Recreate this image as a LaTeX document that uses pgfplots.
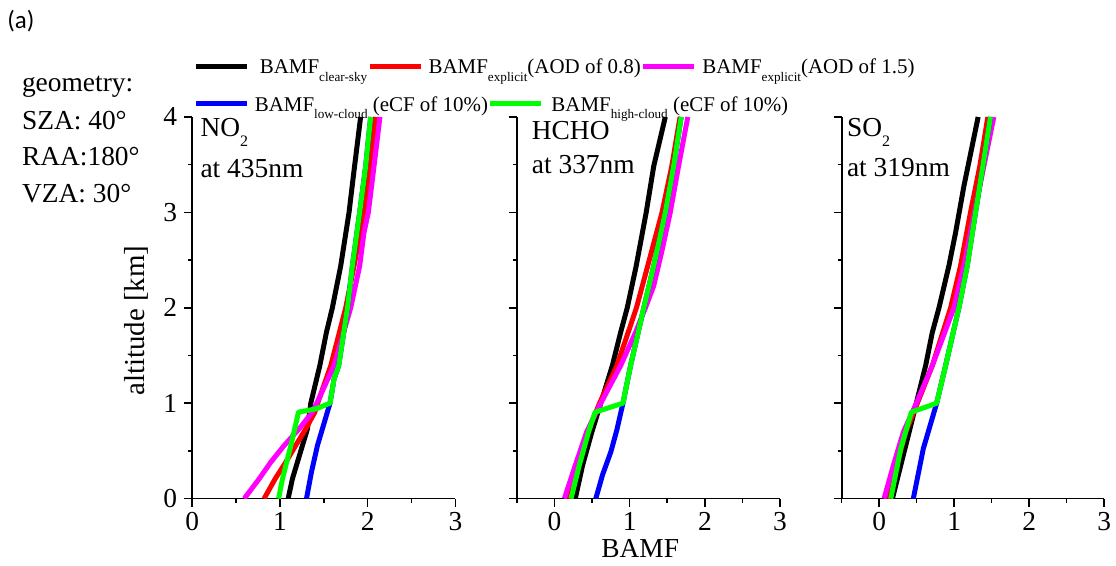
\documentclass[border=0pt]{standalone}
\usepackage{pgfplots}
\pgfplotsset{compat=1.18}
\usepackage{fontspec}
\setmainfont{Liberation Serif}
\newfontfamily\calibri{Carlito}
\definecolor{cgreen}{RGB}{0,255,0}
\definecolor{cmag}{RGB}{255,0,255}
\definecolor{cred}{RGB}{255,0,0}
\definecolor{cblue}{RGB}{0,0,255}
\newcommand{\sub}[1]{\raisebox{-3.8pt}{\fontsize{6.6pt}{7pt}\selectfont #1}}
\newcommand{\msub}[1]{\raisebox{-5pt}{\fontsize{8pt}{9pt}\selectfont #1}}
\pgfplotsset{
  myaxis/.style={
    scale only axis, width=132pt, height=191.35pt,
    ymin=0, ymax=4, anchor=south west,
    axis x line*=bottom, axis y line*=left,
    axis line style={line width=0.9pt,-},
    tick align=outside, major tick length=4pt, minor tick length=2pt,
    every tick/.style={line width=0.8pt,black},
    ytick={0,1,2,3,4}, minor ytick={0.5,1.5,2.5,3.5},
    xtick={0,1,2,3},
    tick label style={font=\fontsize{13.75pt}{15pt}\selectfont},
    xticklabel style={inner sep=2.5pt},
    /pgf/number format/assume math mode=true,
    every axis plot/.append style={line width=2.5pt, line join=round, no markers},
    legend image code/.code={\draw[##1] (0pt,0pt) -- (25.5pt,0pt);},
    legend cell align=left,
  },
  mylegend/.style={
    draw=none, fill=none, inner sep=0pt, outer sep=0pt,
    font=\fontsize{10.5pt}{12pt}\selectfont,
    nodes={inner sep=0pt, text depth=0pt},
    /tikz/every odd column/.style={column sep=2.8pt},
    /tikz/every even column/.style={column sep=0pt},
  },
}
\begin{document}
\begin{tikzpicture}
\path (0,0) rectangle (558pt,283.5pt);
% ---------------- Panel 1: NO2
\begin{axis}[myaxis, at={(96.35pt,33.5pt)}, xmin=0, xmax=3,
  minor xtick={0.5,1.5,2.5},
  legend columns=3,
  legend style={mylegend, at={(0.005,1.132)}, anchor=west}]
\addplot[black] coordinates {(1.094,0) (1.143,0.209) (1.20,0.383) (1.257,0.557) (1.314,0.731) (1.352,1.0) (1.455,1.394) (1.530,1.742) (1.598,2.0) (1.693,2.439) (1.788,3.0) (1.837,3.38) (1.92,4.0)};
\addlegendentry{\hspace{2.5pt}BAMF\sub{clear-sky}}
\addplot[cred] coordinates {(0.82,0) (0.947,0.209) (1.068,0.383) (1.18,0.557) (1.295,0.731) (1.398,0.906) (1.43,1.0) (1.58,1.394) (1.75,2.0) (1.845,2.439) (1.958,3.0) (2.09,4.0)};
\addlegendentry{BAMF\sub{explicit}(AOD of 0.8)}
\addplot[cmag] coordinates {(0.594,0) (0.765,0.209) (0.897,0.383) (1.049,0.557) (1.219,0.731) (1.37,0.906) (1.42,1.0) (1.617,1.394) (1.807,2.0) (1.909,2.439) (1.958,2.787) (2.008,3.0) (2.072,3.48) (2.14,4.0)};
\addlegendentry{BAMF\sub{explicit}(AOD of 1.5)}
\addplot[cblue, forget plot] coordinates {(1.303,0) (1.36,0.28) (1.428,0.557) (1.50,0.78) (1.571,1.0) (1.617,1.254) (1.67,1.394) (1.77,2.0) (1.826,2.439) (1.909,3.0) (1.977,3.48) (2.034,4.0)};
\addplot[cgreen, forget plot] coordinates {(0.985,0) (1.03,0.209) (1.125,0.557) (1.212,0.906) (1.409,0.94) (1.571,1.0) (1.617,1.254) (1.67,1.394) (1.77,2.0) (1.826,2.439) (1.909,3.0) (1.977,3.48) (2.034,4.0)};
\end{axis}
% ---------------- Panel 2: HCHO
\begin{axis}[myaxis, at={(259.15pt,33.5pt)}, xmin=-0.5, xmax=3,
  minor xtick={-0.5,0.5,1.5,2.5}, yticklabels={},
  legend columns=2,
  legend style={mylegend, at={(-1.2284,1.0348)}, anchor=west}]
\addplot[black, forget plot] coordinates {(0.277,0) (0.374,0.348) (0.497,0.697) (0.616,1.0) (0.77,1.394) (0.88,1.742) (0.968,2.0) (1.087,2.439) (1.22,3.0) (1.32,3.484) (1.474,4.0)};
\addplot[cred, forget plot] coordinates {(0.18,0) (0.30,0.348) (0.44,0.697) (0.60,1.0) (0.83,1.394) (0.98,1.742) (1.09,2.0) (1.24,2.439) (1.43,3.0) (1.56,3.484) (1.67,4.0)};
\addplot[cmag, forget plot] coordinates {(0.132,0) (0.277,0.348) (0.427,0.697) (0.616,1.0) (0.88,1.394) (1.078,1.742) (1.21,2.0) (1.32,2.23) (1.43,2.6) (1.54,3.0) (1.65,3.484) (1.773,4.0)};
\addplot[cblue] coordinates {(0.55,0) (0.64,0.25) (0.75,0.49) (0.83,0.72) (0.911,1.0) (1.012,1.394) (1.188,2.0) (1.32,2.439) (1.474,3.0) (1.584,3.484) (1.685,4.0)};
\addlegendentry{BAMF\sub{low-cloud} (eCF of 10\%)}
\addplot[cgreen] coordinates {(0.22,0) (0.33,0.348) (0.453,0.697) (0.541,0.906) (0.911,1.0) (1.012,1.394) (1.188,2.0) (1.32,2.439) (1.474,3.0) (1.584,3.484) (1.685,4.0)};
\addlegendentry{\hspace{1pt}BAMF\sub{high-cloud} (eCF of 10\%)}
\end{axis}
% ---------------- Panel 3: SO2
\begin{axis}[myaxis, at={(422pt,33.5pt)}, width=131.65pt, xmin=-0.5, xmax=3,
  minor xtick={-0.5,0.5,1.5,2.5}, yticklabels={}]
\addplot[black] coordinates {(0.177,0) (0.288,0.348) (0.40,0.697) (0.496,1.0) (0.62,1.394) (0.709,1.742) (0.798,2.0) (0.93,2.439) (1.019,2.787) (1.13,3.275) (1.32,4.0)};
\addplot[cred] coordinates {(0.111,0) (0.235,0.348) (0.354,0.697) (0.51,1.0) (0.709,1.394) (0.953,2.0) (1.085,2.439) (1.218,3.0) (1.342,3.484) (1.449,4.0)};
\addplot[cmag] coordinates {(0.066,0) (0.19,0.348) (0.323,0.697) (0.496,1.0) (0.709,1.394) (0.997,2.0) (1.13,2.439) (1.272,3.0) (1.396,3.484) (1.529,4.0)};
\addplot[cblue] coordinates {(0.456,0) (0.589,0.523) (0.767,1.0) (0.886,1.394) (1.063,2.0) (1.174,2.439) (1.285,3.0) (1.382,3.484) (1.484,4.0)};
\addplot[cgreen] coordinates {(0.155,0) (0.288,0.523) (0.43,0.906) (0.767,1.0) (0.886,1.394) (1.063,2.0) (1.174,2.439) (1.285,3.0) (1.382,3.484) (1.484,4.0)};
\end{axis}
% ---------------- Text
\begin{scope}[every node/.style={inner sep=0pt, font=\fontsize{13.75pt}{15pt}\selectfont}]
\node[anchor=base west, font=\calibri\fontsize{12.5pt}{14pt}\selectfont] at (3.5pt,269pt) {(a)};
\node[anchor=base west] at (10.85pt,237.65pt) {geometry:};
\node[anchor=base west] at (10.85pt,218.5pt) {SZA: 40°};
\node[anchor=base west] at (10.85pt,200.65pt) {RAA:180°};
\node[anchor=base west] at (10.85pt,182.15pt) {VZA: 30°};
\node[anchor=base west] at (100.35pt,215pt) {NO\msub{2}};
\node[anchor=base west] at (100.35pt,194.4pt) {at 435nm};
\node[anchor=base west] at (266.5pt,213.5pt) {HCHO};
\node[anchor=base west] at (266.5pt,196.5pt) {at 337nm};
\node[anchor=base west] at (424.5pt,215pt) {SO\msub{2}};
\node[anchor=base west] at (424.5pt,195pt) {at 319nm};
\node[anchor=center, rotate=90, font=\fontsize{14.5pt}{16pt}\selectfont] at (68.5pt,122.75pt) {altitude [km]};
\node[anchor=base] at (321pt,3.8pt) {BAMF};
\end{scope}
\end{tikzpicture}
\end{document}
